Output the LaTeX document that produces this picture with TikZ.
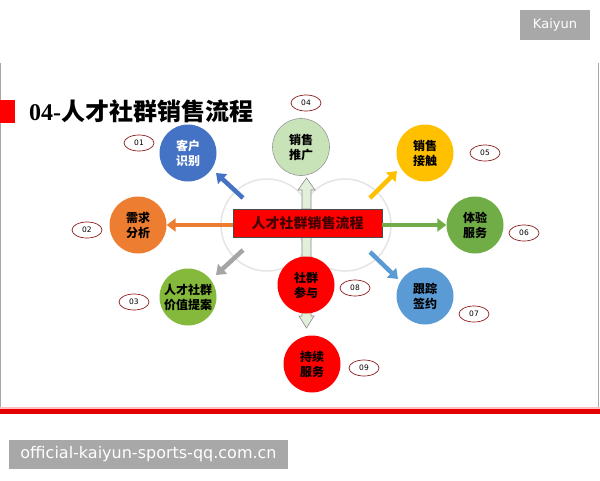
\documentclass[tikz,border=0pt]{standalone}
\usepackage{fontspec}
\setmainfont{Liberation Serif}
\newfontfamily\cjk{Noto Sans CJK SC}
\newfontfamily\wm{DejaVu Sans}
\usetikzlibrary{arrows.meta,shapes.geometric}
\definecolor{cblue}{HTML}{4472C4}
\definecolor{corange}{HTML}{ED7D31}
\definecolor{cgray}{HTML}{A5A5A5}
\definecolor{cyellow}{HTML}{FFC000}
\definecolor{cgreen}{HTML}{70AD47}
\definecolor{clblue}{HTML}{5B9BD5}
\definecolor{clgreen}{HTML}{C9E3B8}
\definecolor{cpale}{HTML}{E2F0D9}
\definecolor{cred}{HTML}{FF0000}
\definecolor{numred}{HTML}{8B1A1A}
\definecolor{wmgray}{HTML}{A8A8A8}
\tikzset{
  bub/.style={circle, minimum size=57pt, inner sep=0pt, align=center,
    font=\cjk\bfseries\fontsize{12}{15}\selectfont},
  num/.style={ellipse, draw=numred, line width=0.7pt, minimum width=30pt, minimum height=16pt,
    inner sep=0pt, font=\wm\fontsize{7.5}{8}\selectfont},
  fat/.style={line width=4.5pt, -{Triangle[width=13pt,length=9pt]}},
  blk/.style={draw=black!45, fill=cpale, line width=0.6pt},
}
\begin{document}
\begin{tikzpicture}[x=1pt,y=-1pt]
\useasboundingbox (0,0) rectangle (600,480);
\fill[white] (0,0) rectangle (600,480);
% frame
\draw[black!35, line width=0.8pt] (0.5,63) -- (0.5,412);
\draw[black!35, line width=0.8pt] (598.5,63) -- (598.5,412);
\fill[red!25] (0,407) rectangle (600,409);
\fill[cred!90!black] (0,409) rectangle (600,414);
% header labels
\node[fill=wmgray, text=white, minimum width=70pt, minimum height=30pt, inner sep=0pt,
  font=\wm\fontsize{13}{15}\selectfont] (kai) at (555,25) {Kaiyun};
\node[fill=wmgray, text=white, minimum width=279pt, minimum height=29pt, inner sep=0pt,
  font=\wm\fontsize{16}{18}\selectfont] (wmk) at (148.5,454.5) {official-kaiyun-sports-qq.com.cn};
% title
\fill[cred] (0,100) rectangle (15,123);
\node[anchor=west, inner sep=0pt, font=\fontsize{24}{28}\selectfont\bfseries] (title) at (29,111)
  {04-{\cjk\bfseries 人才社群销售流程}};
% background rings
\draw[black!10, line width=1.5pt] (267,225) circle (46);
\draw[black!10, line width=1.5pt] (345,225) circle (46);
% block arrows
\draw[blk] (302,209) -- (302,190) -- (298,190) -- (306.5,178) -- (315,190) -- (311,190) -- (311,209) -- cycle;
\draw[blk] (302,237) -- (302,316) -- (299,316) -- (306.5,328) -- (314,316) -- (311,316) -- (311,237) -- cycle;
% central box
\node[draw=black!70, fill=cred, line width=0.8pt, minimum width=149pt, minimum height=28pt, inner sep=0pt,
  text=black!75!red, font=\cjk\bfseries\fontsize{14}{16}\selectfont] (ctr) at (307.5,223) {人才社群销售流程};
% bubbles
\node[bub, fill=cblue, text=white] (b1) at (188,153) {客户\\识别};
\node[bub, fill=corange] (b2) at (138,225) {需求\\分析};
\node[bub, fill=cgreen!85!yellow] (b3) at (188,297) {人才社群\\价值提案};
\node[bub, fill=clgreen, draw=black!40, line width=0.6pt] (b4) at (301,147) {销售\\推广};
\node[bub, fill=cyellow] (b5) at (425,153) {销售\\接触};
\node[bub, fill=cgreen] (b6) at (475,225) {体验\\服务};
\node[bub, fill=clblue] (b7) at (425,296) {跟踪\\签约};
\node[bub, fill=cred] (b8) at (306,285) {社群\\参与};
\node[bub, fill=cred] (b9) at (312,364) {持续\\服务};
% arrows
\coordinate (a1) at (243,198); \coordinate (a2) at (233,225); \coordinate (a3) at (243,250);
\coordinate (a5) at (370,198); \coordinate (a6) at (382,225); \coordinate (a7) at (370,252);
\draw[fat, cblue] (a1) -- (216,173);
\draw[fat, corange] (a2) -- (b2.east);
\draw[fat, cgray] (a3) -- (216,275);
\draw[fat, cyellow] (a5) -- (397,171);
\draw[fat, cgreen] (a6) -- (b6.west);
\draw[fat, clblue] (a7) -- (398,279);
% numbers
\node[num] (n1) at (139,143) {01};
\node[num] (n2) at (87,230) {02};
\node[num] (n3) at (134,302) {03};
\node[num] (n4) at (306,103) {04};
\node[num] (n5) at (485,153) {05};
\node[num] (n6) at (524,233) {06};
\node[num] (n7) at (474,314) {07};
\node[num] (n8) at (355,288) {08};
\node[num] (n9) at (364,368) {09};
\end{tikzpicture}
\end{document}
